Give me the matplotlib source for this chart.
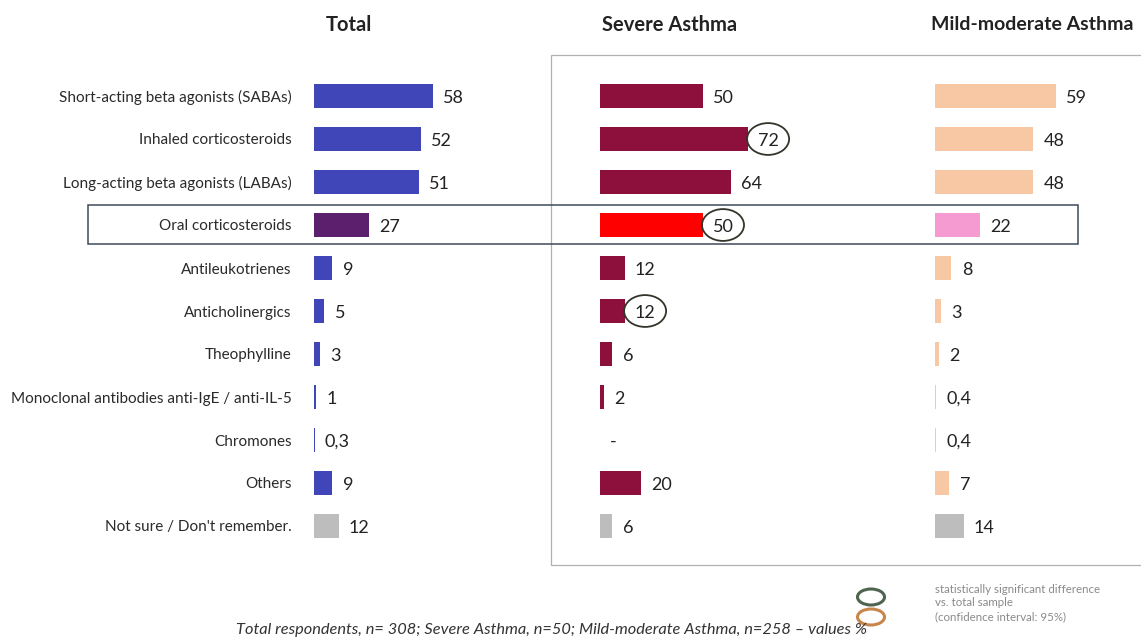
import matplotlib.pyplot as plt
from matplotlib.patches import Ellipse, Rectangle

plt.rcParams['font.family'] = ['Lato', 'DejaVu Sans']

categories = ["Short-acting beta agonists (SABAs)", "Inhaled corticosteroids",
              "Long-acting beta agonists (LABAs)", "Oral corticosteroids",
              "Antileukotrienes", "Anticholinergics", "Theophylline",
              "Monoclonal antibodies anti-IgE / anti-IL-5", "Chromones",
              "Others", "Not sure / Don't remember."]
total = [58, 52, 51, 27, 9, 5, 3, 1, 0.3, 9, 12]
severe = [50, 72, 64, 50, 12, 12, 6, 2, 0, 20, 6]
mild = [59, 48, 48, 22, 8, 3, 2, 0.4, 0.4, 7, 14]
severe_labels = ["50", "72", "64", "50", "12", "12", "6", "2", "-", "20", "6"]
severe_circled = [1, 3, 5]
titles = ["Total", "Severe Asthma", "Mild-moderate Asthma"]

W, H = 1141, 637
fig = plt.figure(figsize=(W / 100, H / 100), dpi=100)


def fx(px):
    return px / W


def fy(py):
    return 1 - py / H


def fmt(v):
    return ("%g" % v).replace(".", ",")


def colors_for(base, oral, n):
    c = [base] * n
    c[3] = oral
    c[-1] = "#bdbdbd"
    return c


n = len(categories)
rows = list(range(n))
bottom, top = fy(547.5), fy(74.5)
cols = [
    (314, total, colors_for("#4046b8", "#5c1f6e", n), [fmt(v) for v in total]),
    (600, severe, colors_for("#8c0f3c", "#ff0000", n), severe_labels),
    (935, mild, colors_for("#f8c8a4", "#f59bd2", n), [fmt(v) for v in mild]),
]

for k, (x0, vals, cols_, labels) in enumerate(cols):
    ax = fig.add_axes([fx(x0), bottom, fx(205), top - bottom])
    ax.barh(rows, vals, height=0.56, color=cols_)
    ax.set_xlim(0, 100)
    ax.set_ylim(n - 0.5, -0.5)
    for i, (v, lab) in enumerate(zip(vals, labels)):
        ax.text(v + 5, i + 0.04, lab, va="center", ha="left", fontsize=13, color="#222222")
        if k == 1 and i in severe_circled:
            ax.add_patch(Ellipse((v + 5 + 5, i), 20.5, 0.74, fill=False,
                                 edgecolor="#33352a", lw=1.3))
    if k == 0:
        ax.set_yticks(rows)
        ax.set_yticklabels(categories, fontsize=11, color="#2a2a2a")
        ax.tick_params(axis="y", length=0, pad=16)
    else:
        ax.set_yticks([])
    ax.set_xticks([])
    for s in ax.spines.values():
        s.set_visible(False)
    ax.set_facecolor("none")

fig.text(fx(349), fy(25), titles[0], ha="center", va="center",
         fontsize=14.5, fontweight="bold", color="#222222")
fig.text(fx(670), fy(25), titles[1], ha="center", va="center",
         fontsize=14.5, fontweight="bold", color="#222222")
fig.text(fx(1032), fy(25), titles[2], ha="center", va="center",
         fontsize=14, fontweight="bold", color="#222222")

# box round the two sub-groups
fig.patches.append(Rectangle((fx(551), fy(565)), fx(620), fy(55) - fy(565),
                             transform=fig.transFigure, fill=False,
                             edgecolor="#b0b0b0", lw=0.9, zorder=0))
# highlight of oral corticosteroids row
fig.patches.append(Rectangle((fx(88), fy(244)), fx(990), fy(205) - fy(244),
                             transform=fig.transFigure, fill=False,
                             edgecolor="#3e4a5a", lw=1.1, zorder=5))

# legend
fig.patches.append(Ellipse((fx(871), fy(597)), fx(27), fy(589) - fy(605),
                           transform=fig.transFigure, fill=False,
                           edgecolor="#4f6450", lw=2.2))
fig.patches.append(Ellipse((fx(871), fy(617)), fx(27), fy(609) - fy(625),
                           transform=fig.transFigure, fill=False,
                           edgecolor="#c8864a", lw=2.2))
fig.text(fx(935), fy(603),
         "statistically significant difference\nvs. total sample\n(confidence interval: 95%)",
         ha="left", va="center", fontsize=8.3, color="#8a8a8a", linespacing=1.3)

fig.text(fx(551), fy(630),
         "Total respondents, n= 308; Severe Asthma, n=50; Mild-moderate Asthma, n=258 \u2013 values %",
         ha="center", va="center", fontsize=11.8, style="italic", color="#333333")

fig.savefig("out.png", dpi=100)
